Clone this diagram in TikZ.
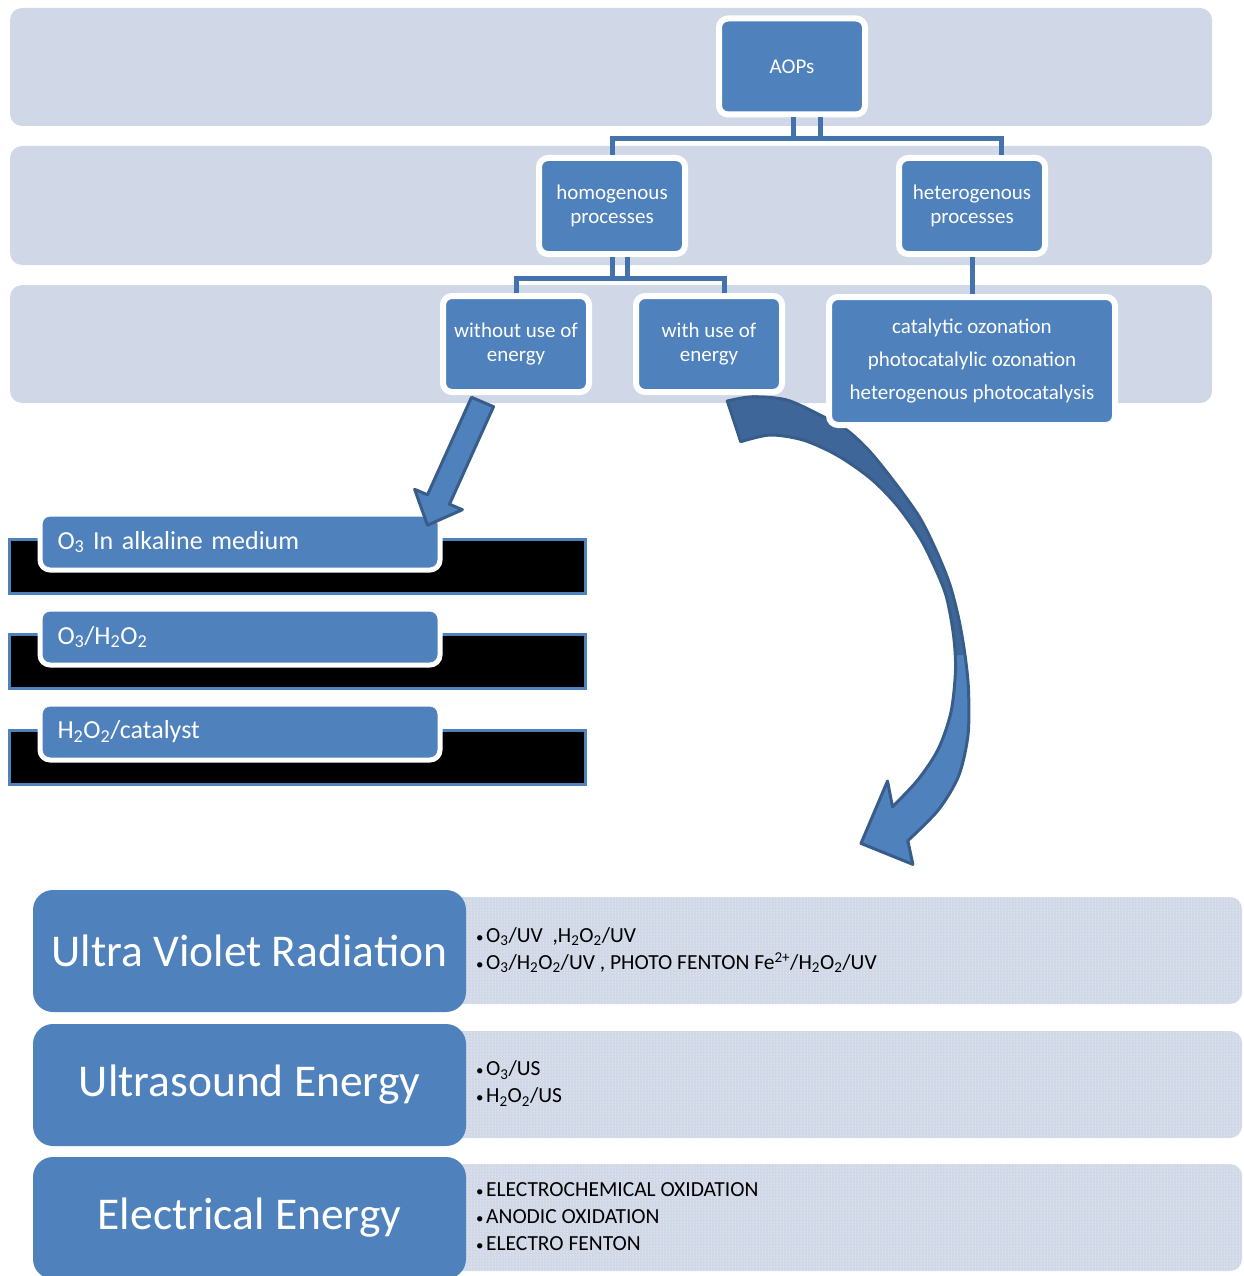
\documentclass[tikz,border=0pt]{standalone}
\usepackage{fontspec}
\setmainfont{Carlito}
\usetikzlibrary{patterns}
\definecolor{bandc}{RGB}{208,216,232}
\definecolor{acc}{RGB}{79,129,189}
\definecolor{connc}{RGB}{67,115,170}
\definecolor{edgec}{RGB}{56,93,138}
\definecolor{darkarr}{RGB}{62,102,152}
\newcommand{\bul}{{\fontsize{15}{15}\selectfont•}\kern2.5pt}
\begin{document}
\begin{tikzpicture}[x=1pt,y=-1pt,
 bandbox/.style={fill=bandc, rounded corners=12pt},
 treebox/.style={draw=white, fill=acc, line width=6pt, rounded corners=9pt, text=white, align=center, font=\fontsize{21}{24}\selectfont, inner sep=0pt, minimum width=146pt, minimum height=96pt},
 connline/.style={draw=connc, line width=5pt},
 listbox/.style={draw=white, fill=acc, line width=5pt, rounded corners=10pt, text=white, text width=365pt, align=left, inner xsep=17.5pt, inner ysep=0pt, minimum height=56pt, font=\fontsize{26}{30}\selectfont},
 listbase/.style={draw=acc, fill=black, line width=3pt},
 bigbox/.style={fill=acc, rounded corners=20pt, text=white, font=\fontsize{45.5}{50}\selectfont, minimum width=433pt, minimum height=122pt, inner sep=0pt},
 panel/.style={fill=bandc, rounded corners=12pt},
 dotsover/.style={pattern=dots, pattern color=white, rounded corners=12pt},
 bullets/.style={anchor=west, align=left, font=\fontsize{21.5}{27}\selectfont, inner sep=0pt},
 arrowedge/.style={draw=edgec, line width=3pt, line join=round},
]
\useasboundingbox (0,0) rectangle (1243,1276);
\clip (0,0) rectangle (1243,1276);

% bands
\fill[bandbox] (10,8) rectangle (1212,126);
\fill[bandbox] (10,146) rectangle (1212,265);
\fill[bandbox] (10,285) rectangle (1212,403);

% curved arrow (behind tree boxes)
\fill[acc] plot[smooth] coordinates {(727.3,401) (753,396.7) (786.7,400) (820,415) (846.7,430) (870,451.7) (896.7,485) (920,518) (936.7,551.7) (950,585) (959,620) (965,655) (968.5,690) (968,735) (958.6,776) (938.3,810) (907.8,840.7)}
 -- (912.9,864.4) -- (861,843.4) -- (887.5,781) -- (892.5,806.8)
 -- plot[smooth] coordinates {(892.5,806.8) (918,779.7) (938.3,749) (951,712) (955.5,670) (953.5,635) (946.7,598) (936.7,571.7) (920,538) (896.7,505) (870,478) (836.7,455) (803,440) (770,435) (740.7,441.7)} -- cycle;
\fill[darkarr] plot[smooth] coordinates {(727.3,401) (753,396.7) (786.7,400) (820,415) (846.7,430) (870,451.7) (896.7,485) (920,518) (936.7,551.7) (950,585) (959,620) (965,655)}
 -- plot[smooth] coordinates {(955,655) (953.5,635) (946.7,598) (936.7,571.7) (920,538) (896.7,505) (870,478) (836.7,455) (803,440) (770,435) (740.7,441.7)} -- cycle;
\draw[arrowedge] plot[smooth] coordinates {(727.3,401) (753,396.7) (786.7,400) (820,415) (846.7,430) (870,451.7) (896.7,485) (920,518) (936.7,551.7) (950,585) (959,620) (965,655) (968.5,690) (968,735) (958.6,776) (938.3,810) (907.8,840.7)}
 -- (912.9,864.4) -- (861,843.4) -- (887.5,781) -- (892.5,806.8)
 -- plot[smooth] coordinates {(892.5,806.8) (918,779.7) (938.3,749) (951,712) (955.5,670) (953.5,635) (946.7,598) (936.7,571.7) (920,538) (896.7,505) (870,478) (836.7,455) (803,440) (770,435) (740.7,441.7)} -- cycle;

% tree
\node[treebox] (aops) at (792,66.5) {AOPs};
\node[treebox] (homog) at (612,206) {homogenous\\processes};
\node[treebox] (hetero) at (972,206) {heterogenous\\processes};
\node[treebox] (woe) at (516,344) {without use of\\energy};
\node[treebox] (wie) at (709,344) {with use of\\energy};
\node[treebox, minimum width=286pt, minimum height=128pt, font=\fontsize{21}{33}\selectfont] (hcat) at (972,361) {catalytic ozonation\\photocatalylic ozonation\\heterogenous photocatalysis};

\draw[connline] ([xshift=1pt]aops.south) -- ++(0,21.5) -| ([xshift=29pt]hetero.north);
\draw[connline] ([xshift=28pt]aops.south) -- ++(0,21.5) -| (homog.north);
\draw[connline] (homog.south) -- ++(0,21) -| ([xshift=15pt]wie.north);
\draw[connline] ([xshift=15pt]homog.south) -- ++(0,21) -| (woe.north);
\draw[connline] (hetero.south) -- (hcat.north);

% list without energy
\draw[listbase] (9.5,539.5) rectangle (585.5,593.5);
\node[listbox] (l1) at (240,542) {O\textsubscript{3} In alkaline medium};
\draw[listbase] (9.5,634.5) rectangle (585.5,688.5);
\node[listbox] (l2) at (240,637) {O\textsubscript{3}/H\textsubscript{2}O\textsubscript{2}};
\draw[listbase] (9.5,730.5) rectangle (585.5,784.5);
\node[listbox] (l3) at (240,732) {H\textsubscript{2}O\textsubscript{2}/catalyst};

% straight arrow
\draw[arrowedge, fill=acc] (493.5,406.7) -- (449.5,504.2) -- (462.4,509.7) -- (427.5,525.2) -- (414.6,489.3) -- (427.5,494.8) -- (471.5,397.3) -- cycle;

% bottom rows
\fill[panel] (440,897) rectangle (1242,1004);
\path[dotsover] (440,897) rectangle (1242,1004);
\fill[panel] (440,1031) rectangle (1242,1138);
\path[dotsover] (440,1031) rectangle (1242,1138);
\fill[panel] (440,1164) rectangle (1242,1271);
\path[dotsover] (440,1164) rectangle (1242,1271);

\node[bigbox] (uv) at (249.5,951) {Ultra Violet Radiation};
\node[bigbox] (us) at (249.5,1085) {Ultrasound Energy};
\node[bigbox] (el) at (249.5,1218) {Electrical Energy};

\node[bullets] (uvl) at (476,950.5) {\bul O\textsubscript{3}/UV\ \ ,H\textsubscript{2}O\textsubscript{2}/UV\\\bul O\textsubscript{3}/H\textsubscript{2}O\textsubscript{2}/UV , PHOTO FENTON Fe\textsuperscript{2+}/H\textsubscript{2}O\textsubscript{2}/UV};
\node[bullets] (usl) at (476,1083.5) {\bul O\textsubscript{3}/US\\\bul H\textsubscript{2}O\textsubscript{2}/US};
\node[bullets] (ell) at (476,1217) {\bul ELECTROCHEMICAL OXIDATION\\\bul ANODIC OXIDATION\\\bul ELECTRO FENTON};
\end{tikzpicture}
\end{document}
